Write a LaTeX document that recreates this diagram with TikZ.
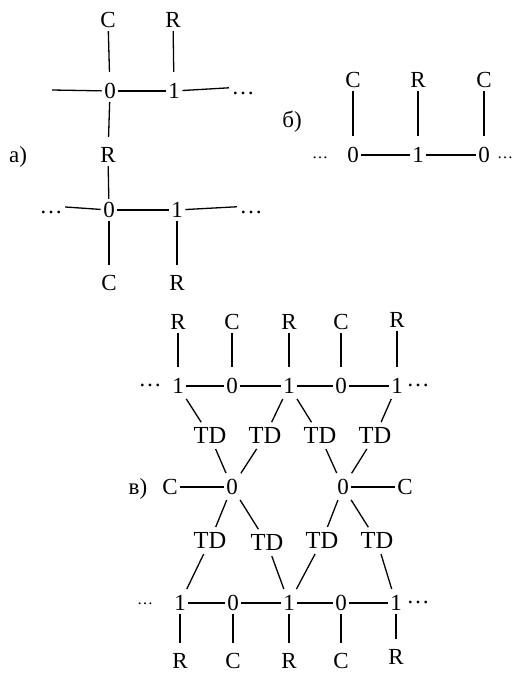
\documentclass[tikz,border=0pt]{standalone}
\usepackage{fontspec}
\setmainfont{Liberation Serif}
\begin{document}
\begin{tikzpicture}[x=1pt,y=-1pt,
  lbl/.style={inner xsep=2.5pt, inner ysep=3.5pt, text height=15pt, text depth=0pt,
              font=\fontsize{23}{23}\selectfont},
  td/.style={lbl, font=\fontsize{24.5}{24.5}\selectfont},
  sdots/.style={lbl, font=\fontsize{16}{16}\selectfont},
  bond/.style={line width=1.3pt},
  upbond/.style={bond, shorten >=8pt},
  downbond/.style={bond, shorten >=7pt},
  tdbond/.style={bond, shorten <=2pt, shorten >=3pt}]
\useasboundingbox (0,0) rectangle (514,675);

% ---------- a) ----------
\node[lbl] (alab) at (18,155) {а)};
\node[lbl] (aC1) at (108,20) {C};
\node[lbl] (aR1) at (173,20) {R};
\coordinate (aL) at (52,90);
\node[lbl] (a01) at (110,91) {0};
\node[lbl] (a11) at (174,91) {1};
\node[lbl] (aD1) at (243,87) {\ldots};
\node[lbl] (aR2) at (108,155) {R};
\node[lbl] (aDL) at (51,206) {\ldots};
\node[lbl] (a02) at (109,210) {0};
\node[lbl] (a12) at (177,210) {1};
\node[lbl] (aDR) at (251,206) {\ldots};
\node[lbl] (aC2) at (109,283) {C};
\node[lbl] (aR3) at (177,283) {R};
\draw[upbond] (aC1) -- (a01);
\draw[upbond] (aR1) -- (a11);
\draw[bond] (aL) -- (a01);
\draw[bond] (a01) -- (a11);
\draw[bond] (a11) -- (aD1);
\draw[downbond] (a01) -- (aR2);
\draw[bond] (aR2) -- (a02);
\draw[bond] (aDL) -- (a02);
\draw[bond] (a02) -- (a12);
\draw[bond] (a12) -- (aDR);
\draw[downbond] (a02) -- (aC2);
\draw[downbond] (a12) -- (aR3);

% ---------- б) ----------
\node[lbl] (blab) at (292,120) {б)};
\node[lbl] (bC1) at (353,80) {C};
\node[lbl] (bR) at (418,80) {R};
\node[lbl] (bC2) at (484,80) {C};
\node[sdots] (bDL) at (320,151) {\ldots};
\node[lbl] (b01) at (353,155) {0};
\node[lbl] (b1) at (418,155) {1};
\node[lbl] (b02) at (484,155) {0};
\node[sdots] (bDR) at (505,151) {\ldots};
\draw[upbond] (bC1) -- (b01);
\draw[upbond] (bR) -- (b1);
\draw[upbond] (bC2) -- (b02);
\draw[bond] (b01) -- (b1);
\draw[bond] (b1) -- (b02);

% ---------- в) ----------
\node[lbl] (clab) at (138,487) {в)};
% upper chain
\node[lbl] (cR1) at (178,322) {R};
\node[lbl] (cC1) at (232,322) {C};
\node[lbl] (cR2) at (289,322) {R};
\node[lbl] (cC2) at (341,322) {C};
\node[lbl] (cR3) at (397,320) {R};
\node[lbl] (cDL) at (150,379) {\ldots};
\node[lbl] (c1a) at (178,386) {1};
\node[lbl] (c0a) at (232,386) {0};
\node[lbl] (c1b) at (289,386) {1};
\node[lbl] (c0b) at (341,386) {0};
\node[lbl] (c1c) at (397,386) {1};
\node[lbl] (cDR) at (418,379) {\ldots};
% upper TD row
\node[td] (t1) at (210,436) {TD};
\node[td] (t2) at (265,436) {TD};
\node[td] (t3) at (320,436) {TD};
\node[td] (t4) at (375,436) {TD};
% middle
\node[lbl] (mCa) at (170,487) {C};
\node[lbl] (m0a) at (232,487) {0};
\node[lbl] (m0b) at (343,487) {0};
\node[lbl] (mCb) at (405,487) {C};
% lower TD row
\node[td] (u1) at (210,541) {TD};
\node[td] (u2) at (267,543) {TD};
\node[td] (u3) at (322,541) {TD};
\node[td] (u4) at (377,541) {TD};
% lower chain
\node[sdots] (dDL) at (145,597) {\ldots};
\node[lbl] (d1a) at (180,603) {1};
\node[lbl] (d0a) at (233,603) {0};
\node[lbl] (d1b) at (289,603) {1};
\node[lbl] (d0b) at (341,603) {0};
\node[lbl] (d1c) at (396,603) {1};
\node[lbl] (dDR) at (418,596) {\ldots};
\node[lbl] (dR1) at (180,661) {R};
\node[lbl] (dC1) at (233,661) {C};
\node[lbl] (dR2) at (289,661) {R};
\node[lbl] (dC2) at (341,661) {C};
\node[lbl] (dR3) at (396,657) {R};

% side groups hanging off the chains
\foreach \a/\b in {cR1/c1a, cC1/c0a, cR2/c1b, cC2/c0b, cR3/c1c}
  \draw[upbond] (\a) -- (\b);
\foreach \a/\b in {d1a/dR1, d0a/dC1, d1b/dR2, d0b/dC2, d1c/dR3}
  \draw[downbond] (\a) -- (\b);
% chain bonds
\foreach \a/\b in {c1a/c0a, c0a/c1b, c1b/c0b, c0b/c1c,
                   mCa/m0a, m0b/mCb,
                   d1a/d0a, d0a/d1b, d1b/d0b, d0b/d1c}
  \draw[bond] (\a) -- (\b);
% TD bridges
\foreach \a/\b in {c1a/t1, c1b/t2, c1b/t3, c1c/t4,
                   t1/m0a, t2/m0a, t3/m0b, t4/m0b,
                   m0a/u1, m0a/u2, m0b/u3, m0b/u4,
                   u1/d1a, u2/d1b, u3/d1b, u4/d1c}
  \draw[tdbond] (\a) -- (\b);
\end{tikzpicture}
\end{document}
